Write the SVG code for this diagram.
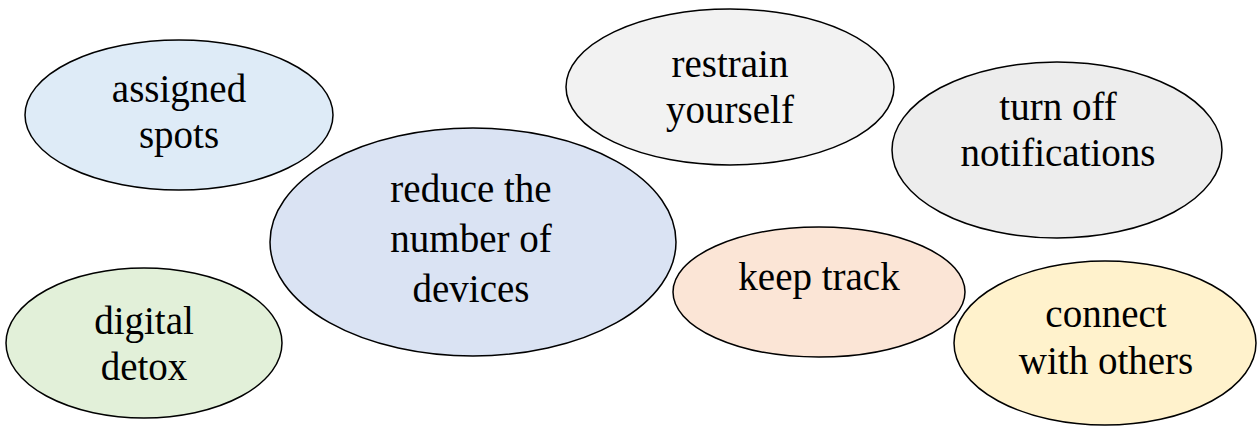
<svg xmlns="http://www.w3.org/2000/svg" width="1258" height="428" viewBox="0 0 1258 428">
<style>
.n ellipse{stroke:#000;stroke-width:1.5}
.n text{font-size:39px;fill:#000;text-anchor:middle}
</style>
<rect width="1258" height="428" fill="#fff"/>
<g id="connectors"/>
<g font-family="'Liberation Serif', 'Times New Roman', serif">
<g id="assigned-spots" class="n">
<ellipse cx="179" cy="115" rx="154" ry="75" fill="#DEEBF7"/>
<text x="179" y="102">assigned</text>
<text x="179" y="148">spots</text>
</g>
<g id="restrain-yourself" class="n">
<ellipse cx="730" cy="87" rx="164" ry="78" fill="#F2F2F2"/>
<text x="730" y="77">restrain</text>
<text x="730" y="123">yourself</text>
</g>
<g id="reduce-devices" class="n">
<ellipse cx="473" cy="242" rx="203" ry="114" fill="#DAE3F3"/>
<text x="471" y="202">reduce the</text>
<text x="471" y="252">number of</text>
<text x="471" y="302">devices</text>
</g>
<g id="digital-detox" class="n">
<ellipse cx="144" cy="343" rx="138" ry="75" fill="#E2F0D9"/>
<text x="144" y="334">digital</text>
<text x="144" y="380">detox</text>
</g>
<g id="keep-track" class="n">
<ellipse cx="819" cy="292" rx="146" ry="65" fill="#FBE5D6"/>
<text x="819" y="290">keep track</text>
</g>
<g id="turn-off-notifications" class="n">
<ellipse cx="1057" cy="150" rx="165" ry="88" fill="#EDEDED"/>
<text x="1058" y="120">turn off</text>
<text x="1058" y="166">notifications</text>
</g>
<g id="connect-with-others" class="n">
<ellipse cx="1105" cy="343" rx="151" ry="82" fill="#FFF2CC"/>
<text x="1106" y="327">connect</text>
<text x="1106" y="374">with others</text>
</g>
</g>
</svg>
